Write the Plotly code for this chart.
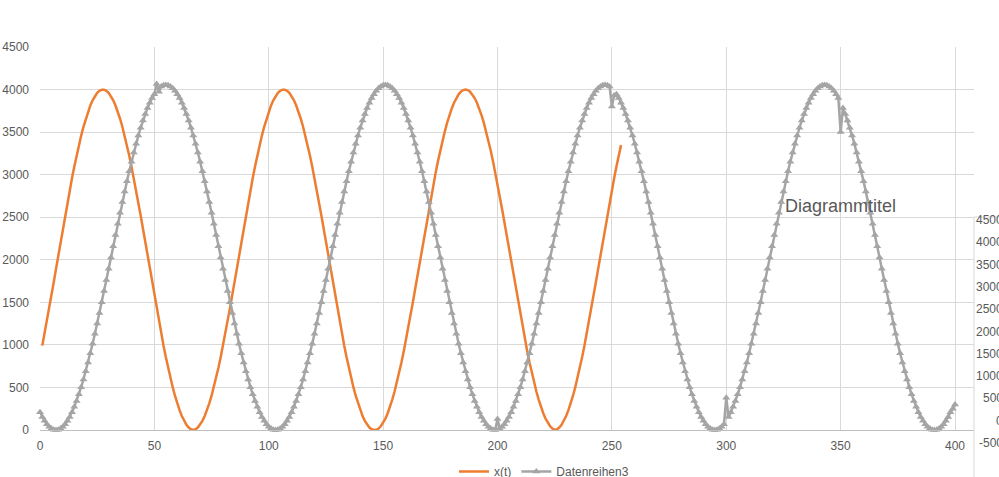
import plotly.graph_objects as go

# ---------------- data ----------------
x_orange = list(range(1, 255))
y_orange = [
    991, 1131, 1276, 1426, 1579, 1736, 1893, 2052, 2210, 2367,
    2521, 2672, 2819, 2961, 3097, 3226, 3347, 3459, 3563, 3657,
    3741, 3813, 3874, 3924, 3961, 3986, 3998, 3998, 3986, 3961,
    3924, 3874, 3813, 3741, 3657, 3563, 3459, 3347, 3226, 3097,
    2961, 2819, 2672, 2521, 2367, 2210, 2052, 1893, 1736, 1579,
    1426, 1276, 1131, 991, 858, 731, 613, 503, 403, 313,
    233, 164, 107, 62, 29, 8, 0, 8, 29, 62,
    107, 164, 233, 313, 403, 503, 613, 731, 858, 991,
    1131, 1276, 1426, 1579, 1736, 1893, 2052, 2210, 2367, 2521,
    2672, 2819, 2961, 3097, 3226, 3347, 3459, 3563, 3657, 3741,
    3813, 3874, 3924, 3961, 3986, 3998, 3998, 3986, 3961, 3924,
    3874, 3813, 3741, 3657, 3563, 3459, 3347, 3226, 3097, 2961,
    2819, 2672, 2521, 2367, 2210, 2052, 1893, 1736, 1579, 1426,
    1276, 1131, 991, 858, 731, 613, 503, 403, 313, 233,
    164, 107, 62, 29, 8, 0, 3, 17, 44, 83,
    134, 197, 271, 357, 452, 557, 671, 793, 923, 1060,
    1203, 1351, 1502, 1657, 1814, 1972, 2131, 2288, 2444, 2597,
    2746, 2891, 3030, 3162, 3287, 3404, 3512, 3611, 3700, 3778,
    3845, 3900, 3944, 3975, 3994, 4000, 3994, 3975, 3944, 3900,
    3845, 3778, 3700, 3611, 3512, 3404, 3287, 3162, 3030, 2891,
    2746, 2597, 2444, 2288, 2131, 1972, 1814, 1657, 1502, 1351,
    1203, 1060, 923, 793, 671, 557, 452, 357, 271, 197,
    134, 83, 44, 17, 1, 8, 29, 62, 107, 164,
    233, 313, 403, 503, 613, 731, 858, 991, 1131, 1276,
    1426, 1579, 1736, 1893, 2052, 2210, 2367, 2521, 2672, 2819,
    2961, 3097, 3226, 3347,
]

x_gray = list(range(0, 401))
y_gray = [
    # x = 0..6
    209, 154, 108, 69, 39, 17, 4,
    # x = 7..55
    0, 4, 17, 39, 69, 108, 154, 209, 272, 342, 419, 503, 594, 691, 793, 901,
    1014, 1131, 1251, 1375, 1502, 1632, 1762, 1894, 2027, 2160, 2292, 2422,
    2552, 2679, 2803, 2924, 3041, 3153, 3261, 3364, 3460, 3551, 3635, 3712,
    3782, 3845, 3900, 3946, 4065, 3975, 4037, 4050, 4054,
    # x = 56..103
    4050, 4037, 4015, 3985, 3946, 3900, 3845, 3782, 3712, 3635, 3551, 3460,
    3364, 3261, 3153, 3041, 2924, 2803, 2679, 2552, 2422, 2292, 2160, 2027,
    1894, 1762, 1632, 1502, 1375, 1251, 1131, 1014, 901, 793, 691, 594,
    503, 419, 342, 272, 209, 154, 108, 69, 39, 17, 4, 0,
    # x = 104..151
    4, 17, 39, 69, 108, 154, 209, 272, 342, 419, 503, 594,
    691, 793, 901, 1014, 1131, 1251, 1375, 1502, 1632, 1762, 1894, 2027,
    2160, 2292, 2422, 2552, 2679, 2803, 2924, 3041, 3153, 3261, 3364, 3460,
    3551, 3635, 3712, 3782, 3845, 3900, 3946, 3985, 4015, 4037, 4050, 4054,
    # x = 152..199
    4050, 4037, 4015, 3985, 3946, 3900, 3845, 3782, 3712, 3635, 3551, 3460,
    3364, 3261, 3153, 3041, 2924, 2803, 2679, 2552, 2422, 2292, 2160, 2027,
    1894, 1762, 1632, 1502, 1375, 1251, 1131, 1014, 901, 793, 691, 594,
    503, 419, 342, 272, 209, 154, 108, 69, 39, 17, 4, 0,
    # x = 200..247
    130, 17, 39, 69, 108, 154, 209, 272, 342, 419, 503, 594,
    691, 793, 901, 1014, 1131, 1251, 1375, 1502, 1632, 1762, 1894, 2027,
    2160, 2292, 2422, 2552, 2679, 2803, 2924, 3041, 3153, 3261, 3364, 3460,
    3551, 3635, 3712, 3782, 3845, 3900, 3946, 3985, 4015, 4037, 4050, 4054,
    # x = 248..295
    4050, 4037, 3800, 3930, 3946, 3900, 3845, 3782, 3712, 3635, 3551, 3460,
    3364, 3261, 3153, 3041, 2924, 2803, 2679, 2552, 2422, 2292, 2160, 2027,
    1894, 1762, 1632, 1502, 1375, 1251, 1131, 1014, 901, 793, 691, 594,
    503, 419, 342, 272, 209, 154, 108, 69, 39, 17, 4, 0,
    # x = 296..343
    4, 17, 39, 69, 380, 154, 209, 272, 342, 419, 503, 594,
    691, 793, 901, 1014, 1131, 1251, 1375, 1502, 1632, 1762, 1894, 2027,
    2160, 2292, 2422, 2552, 2679, 2803, 2924, 3041, 3153, 3261, 3364, 3460,
    3551, 3635, 3712, 3782, 3845, 3900, 3946, 3985, 4015, 4037, 4050, 4054,
    # x = 344..391
    4050, 4037, 4015, 3985, 3946, 3900, 3500, 3782, 3712, 3635, 3551, 3460,
    3364, 3261, 3153, 3041, 2924, 2803, 2679, 2552, 2422, 2292, 2160, 2027,
    1894, 1762, 1632, 1502, 1375, 1251, 1131, 1014, 901, 793, 691, 594,
    503, 419, 342, 272, 209, 154, 108, 69, 39, 17, 4, 0,
    # x = 392..400
    4, 17, 39, 69, 108, 154, 209, 250, 300,
]

series_names = ["x(t)", "Datenreihen3"]
title_text = "Diagrammtitel"
right_tick_labels = ["4500", "4000", "3500", "3000", "2500", "2000",
                     "1500", "1000", "500", "0", "-500"]

# ---------------- layout (screen pixels) ----------------
L, R, T, B = 40, 974, 47, 430
W, H = 1010, 490


def px_x(p):
    return (p - L) / (R - L)


def px_y(p):
    return (B - p) / (B - T)


TXT = "#595959"
GRID = "#D9D9D9"
FONT = "Liberation Sans"

fig = go.Figure()
fig.add_trace(go.Scatter(
    x=x_orange, y=y_orange, mode="lines", name=series_names[0],
    line=dict(color="#ED7D31", width=2.5), cliponaxis=False,
))
fig.add_trace(go.Scatter(
    x=x_gray, y=y_gray, mode="lines+markers", name=series_names[1],
    line=dict(color="#A5A5A5", width=2.5),
    marker=dict(symbol="triangle-up", size=7, color="#A5A5A5"),
    cliponaxis=False,
))

annotations = [dict(
    text=title_text, x=px_x(840), y=px_y(206), xref="paper", yref="paper",
    xanchor="center", yanchor="middle", showarrow=False,
    font=dict(family=FONT, size=18, color=TXT),
)]
for i, lab in enumerate(right_tick_labels):
    annotations.append(dict(
        text=lab, x=px_x(1005), y=px_y(220 + i * 22.3), xref="paper", yref="paper",
        xanchor="right", yanchor="middle", showarrow=False,
        font=dict(family=FONT, size=12, color=TXT),
    ))

fig.update_layout(
    width=W, height=H,
    margin=dict(l=L, r=W - R, t=T, b=H - B, autoexpand=False),
    paper_bgcolor="white", plot_bgcolor="white",
    font=dict(family=FONT, size=12, color=TXT),
    showlegend=True,
    legend=dict(orientation="h", x=px_x(454), xanchor="left",
                y=px_y(457), yanchor="top", font=dict(size=12, color=TXT),
                bgcolor="rgba(0,0,0,0)"),
    xaxis=dict(range=[0, 408.3], tick0=0, dtick=50, showgrid=True,
               gridcolor=GRID, gridwidth=1, zeroline=False, showline=True,
               linecolor="#BFBFBF", linewidth=1, ticks="", ticklabelstandoff=5,
               automargin=False),
    yaxis=dict(range=[0, 4500], tick0=0, dtick=500, showgrid=True,
               gridcolor=GRID, gridwidth=1, zeroline=False, showline=False,
               ticks="", ticklabelstandoff=10, automargin=False),
    shapes=[dict(type="rect", xref="paper", yref="paper",
                 x0=px_x(974), x1=px_x(1020), y0=px_y(500), y1=px_y(217),
                 fillcolor="white", line=dict(color=GRID, width=1), layer="above")],
    annotations=annotations,
)

fig.write_html(
    "out.html",
    config={"displayModeBar": False},
    post_script="document.body.style.margin='0';document.body.style.overflow='hidden';",
)
